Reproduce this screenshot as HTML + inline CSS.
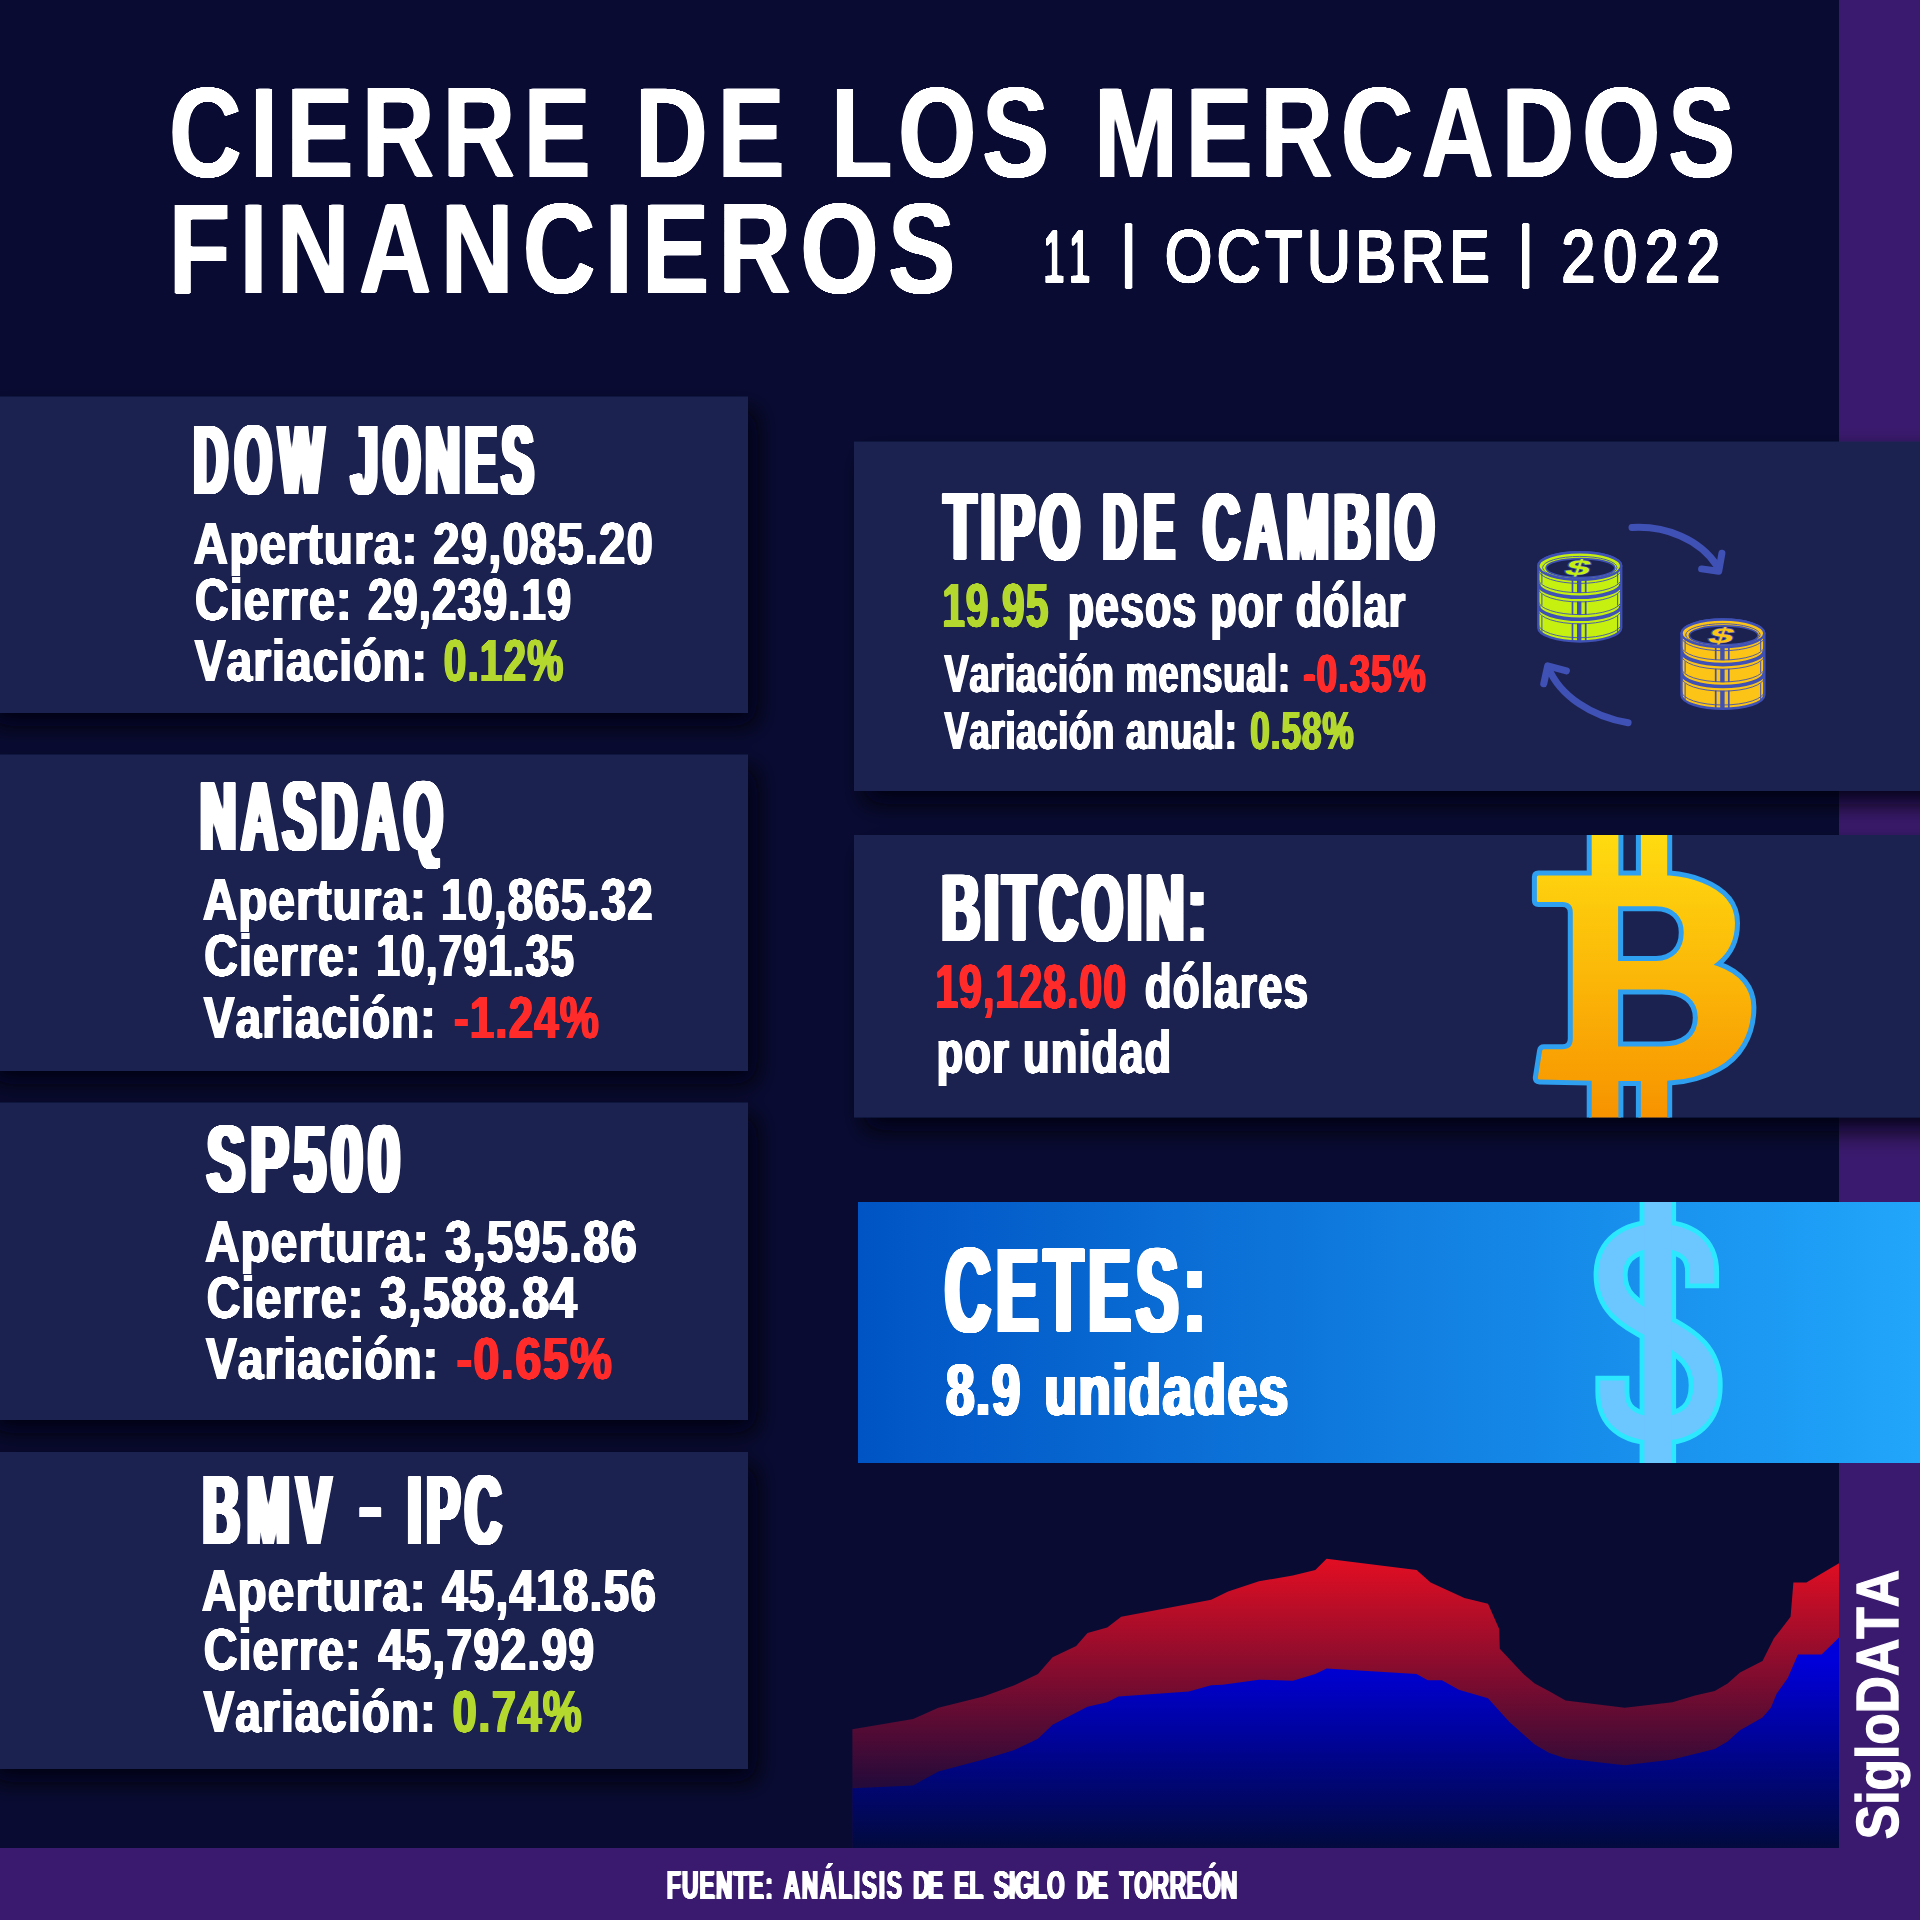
<!DOCTYPE html>
<html lang="es">
<head>
<meta charset="utf-8">
<title>Cierre de los mercados financieros</title>
<style>
html,body{margin:0;padding:0;background:#090b33;}
body{width:1920px;height:1920px;overflow:hidden;}
svg{display:block;}
text{font-family:"Liberation Sans",sans-serif;font-weight:700;font-kerning:none;}
.hd{filter:url(#fatH);}
.bd{filter:url(#fatB);}
.bc{filter:url(#fatC);}
.ft{filter:url(#fatF);}
.ti{filter:url(#fatT);}
.dt{stroke:#fff;stroke-width:1.6px;filter:url(#fatD);}
.dt text{font-weight:400;}
</style>
</head>
<body>
<svg width="1920" height="1920" viewBox="0 0 1920 1920">
<defs>
<filter id="sh" x="-10%" y="-20%" width="130%" height="150%"><feDropShadow dx="9" dy="13" stdDeviation="12" flood-color="#000008" flood-opacity="0.92"/></filter>
<linearGradient id="gr" x1="0" y1="1556" x2="0" y2="1785" gradientUnits="userSpaceOnUse"><stop offset="0" stop-color="#e50e22"/><stop offset="1" stop-color="#250a3a"/></linearGradient>
<linearGradient id="gb" x1="0" y1="1660" x2="0" y2="1848" gradientUnits="userSpaceOnUse"><stop offset="0" stop-color="#0000da"/><stop offset="0.5" stop-color="#00048c"/><stop offset="1" stop-color="#020a3e"/></linearGradient>
<linearGradient id="gc" x1="858" y1="0" x2="1920" y2="0" gradientUnits="userSpaceOnUse"><stop offset="0" stop-color="#0054c4"/><stop offset="1" stop-color="#21a6fb"/></linearGradient>
<linearGradient id="gbt" x1="0" y1="835" x2="0" y2="1118" gradientUnits="userSpaceOnUse"><stop offset="0" stop-color="#ffdb10"/><stop offset="1" stop-color="#f79300"/></linearGradient>
<filter id="fatH" x="0" y="380" width="1920" height="1250" filterUnits="userSpaceOnUse" color-interpolation-filters="sRGB"><feMorphology operator="dilate" radius="2 0"/><feGaussianBlur stdDeviation="1.6 0"/><feComponentTransfer><feFuncA type="linear" slope="5" intercept="-0.870"/></feComponentTransfer></filter>
<filter id="fatB" x="0" y="380" width="1920" height="1400" filterUnits="userSpaceOnUse" color-interpolation-filters="sRGB"><feGaussianBlur stdDeviation="1.7 0"/><feComponentTransfer><feFuncA type="linear" slope="5" intercept="-0.870"/></feComponentTransfer></filter>
<filter id="fatC" x="900" y="1340" width="500" height="100" filterUnits="userSpaceOnUse" color-interpolation-filters="sRGB"><feMorphology operator="dilate" radius="1 0"/><feGaussianBlur stdDeviation="0.9 0"/><feComponentTransfer><feFuncA type="linear" slope="5" intercept="-0.870"/></feComponentTransfer></filter>
<filter id="fatT" x="0" y="0" width="1920" height="400" filterUnits="userSpaceOnUse" color-interpolation-filters="sRGB"><feGaussianBlur stdDeviation="1.4 0"/><feComponentTransfer><feFuncA type="linear" slope="5" intercept="-1.050"/></feComponentTransfer></filter>
<filter id="fatD" x="1000" y="200" width="800" height="120" filterUnits="userSpaceOnUse" color-interpolation-filters="sRGB"><feGaussianBlur stdDeviation="1.3 0"/><feComponentTransfer><feFuncA type="linear" slope="5" intercept="-1.050"/></feComponentTransfer></filter>
<filter id="fatF" x="0" y="1840" width="1920" height="80" filterUnits="userSpaceOnUse" color-interpolation-filters="sRGB"><feGaussianBlur stdDeviation="1.5 0"/><feComponentTransfer><feFuncA type="linear" slope="5" intercept="-0.900"/></feComponentTransfer></filter>
<clipPath id="cbt"><rect x="854" y="835" width="1066" height="282.5"/></clipPath>
<clipPath id="cct"><rect x="858" y="1202" width="1062" height="261"/></clipPath>
</defs>
<rect width="1920" height="1920" fill="#090b33"/>
<rect x="1839" y="0" width="81" height="1920" fill="#3a1a6e"/>
<polygon points="852.4,1729.2 913.1,1719.0 938.4,1707.8 983.4,1696.6 1014.4,1685.3 1038.0,1674.0 1052.6,1657.2 1076.2,1646.0 1087.5,1633.0 1107.2,1627.4 1121.2,1616.7 1211.2,1599.8 1228.1,1591.4 1259.0,1581.2 1292.8,1575.6 1315.3,1570.0 1326.6,1558.8 1416.6,1570.0 1430.6,1582.4 1464.4,1598.1 1488.0,1603.8 1499.2,1629.0 1499.8,1648.8 1523.4,1674.0 1534.7,1683.6 1548.8,1691.0 1565.6,1700.5 1624.7,1707.8 1672.5,1702.2 1695.0,1695.4 1714.7,1691.0 1727.6,1683.6 1740.0,1672.4 1762.5,1661.1 1773.8,1638.6 1790.6,1616.7 1793.4,1582.4 1806.4,1582.4 1839.0,1563.2 1839.0,1848.0 852.4,1848.0" fill="url(#gr)"/>
<polygon points="852.4,1788.2 913.1,1785.4 938.4,1771.4 983.4,1759.6 1014.4,1750.0 1038.0,1738.8 1052.6,1724.7 1087.5,1706.7 1107.2,1702.2 1118.4,1696.6 1188.8,1691.5 1211.2,1685.3 1222.5,1684.8 1259.0,1679.7 1292.8,1680.8 1315.3,1674.0 1326.6,1668.4 1416.6,1674.0 1427.8,1680.2 1441.9,1680.2 1458.8,1689.8 1488.0,1698.2 1509.4,1721.9 1534.7,1744.4 1548.8,1752.8 1565.6,1758.4 1624.7,1765.2 1672.5,1759.6 1714.7,1748.9 1727.6,1741.6 1740.0,1730.3 1762.5,1717.4 1770.9,1707.8 1776.6,1693.8 1787.8,1678.0 1797.9,1654.4 1821.6,1654.4 1839.0,1637.5 1839.0,1848.0 852.4,1848.0" fill="url(#gb)"/>
<rect x="0" y="1848" width="1920" height="72" fill="#3a1a6e"/>
<g filter="url(#sh)" fill="#1b224f">
<rect x="-20" y="396.5" width="768" height="316.5"/>
<rect x="-20" y="754.5" width="768" height="316.5"/>
<rect x="-20" y="1102.6" width="768" height="317.4"/>
<rect x="-20" y="1452" width="768" height="317"/>
<rect x="854" y="441.6" width="1090" height="349.4"/>
<rect x="854" y="835" width="1090" height="282.5"/>
</g>
<rect x="858" y="1202" width="1062" height="261" fill="url(#gc)"/>
<!-- ICONS -->
<g id="icons">
<g fill="none" stroke="#3f51b5" stroke-width="7" stroke-linecap="round" stroke-linejoin="round">
<path d="M1632,527.5 C1665,525.5 1700,539 1717.5,566.5"/><path d="M1701.6,568.9 L1718.75,571.25 L1721.9,553.3"/>
<path d="M1628.1,722.8 C1592,717 1560,696 1548.5,668"/><path d="M1543.75,683.75 L1547.7,665.8 L1566.4,670.9"/>
</g>
<clipPath id="ck1"><path d="M1538.3,566.0 V627.7 A41.4,13.8 0 0 0 1621.2,627.7 V566.0 A41.4,13.8 0 0 0 1538.3,566.0 Z"/></clipPath>
<path d="M1538.3,566.0 V627.7 A41.4,13.8 0 0 0 1621.2,627.7 V566.0 A41.4,13.8 0 0 0 1538.3,566.0 Z" fill="#c6f00f"/>
<g clip-path="url(#ck1)" fill="none" stroke="#3f51b5">
<path d="M1579.2,579.8 V641.5" stroke-width="4.4"/>
<path d="M1572.5,579.8 V641.5 M1585.7,579.8 V641.5" stroke-width="1.7"/>
<path d="M1541.9,570.0 V633.7 M1617.6,570.0 V633.7" stroke-width="1"/>
<path d="M1538.3,583.5 A41.4,13.8 0 0 0 1621.2,583.5" stroke="#c6f00f" stroke-width="8.6"/>
<path d="M1538.3,578.9 A41.4,13.8 0 0 0 1621.2,578.9" stroke-width="0.9"/>
<path d="M1538.3,588.1 A41.4,13.8 0 0 0 1621.2,588.1" stroke-width="0.9"/>
<path d="M1538.3,583.5 A41.4,13.8 0 0 0 1621.2,583.5" stroke-width="3.6"/>
<path d="M1538.3,605.4 A41.4,13.8 0 0 0 1621.2,605.4" stroke="#c6f00f" stroke-width="8.6"/>
<path d="M1538.3,600.8 A41.4,13.8 0 0 0 1621.2,600.8" stroke-width="0.9"/>
<path d="M1538.3,610.0 A41.4,13.8 0 0 0 1621.2,610.0" stroke-width="0.9"/>
<path d="M1538.3,605.4 A41.4,13.8 0 0 0 1621.2,605.4" stroke-width="3.6"/>
<path d="M1538.3,569.6 A41.4,13.8 0 0 0 1621.2,569.6" stroke-width="0.9"/>
<path d="M1538.3,623.9 A41.4,13.8 0 0 0 1621.2,623.9" stroke-width="0.9"/>
</g>
<path d="M1538.3,566.0 V627.7 A41.4,13.8 0 0 0 1621.2,627.7 V566.0 A41.4,13.8 0 0 0 1538.3,566.0 Z" fill="none" stroke="#3f51b5" stroke-width="2.4"/>
<ellipse cx="1579.8" cy="566.0" rx="41.4" ry="13.8" fill="#c6f00f" stroke="#3f51b5" stroke-width="2.4"/>
<ellipse cx="1579.8" cy="567.6" rx="37.199999999999996" ry="11.200000000000001" fill="none" stroke="#3f51b5" stroke-width="0.9"/>
<ellipse cx="1580.5" cy="568.1" rx="34.4" ry="9.5" fill="#1b224f" stroke="#3f51b5" stroke-width="1.6"/>
<text transform="matrix(1.5 0 -0.3 0.74 1563.3 575.4)" font-size="29" fill="#c6f00f" stroke="#3f51b5" stroke-width="1.7" paint-order="stroke">$</text>
<clipPath id="ck2"><path d="M1681.5,633.3 V695.0 A41.4,13.8 0 0 0 1764.3,695.0 V633.3 A41.4,13.8 0 0 0 1681.5,633.3 Z"/></clipPath>
<path d="M1681.5,633.3 V695.0 A41.4,13.8 0 0 0 1764.3,695.0 V633.3 A41.4,13.8 0 0 0 1681.5,633.3 Z" fill="#fcc417"/>
<g clip-path="url(#ck2)" fill="none" stroke="#3f51b5">
<path d="M1722.4,647.1 V708.8" stroke-width="4.4"/>
<path d="M1715.7,647.1 V708.8 M1728.8,647.1 V708.8" stroke-width="1.7"/>
<path d="M1685.1,637.3 V701.0 M1760.7,637.3 V701.0" stroke-width="1"/>
<path d="M1681.5,650.8 A41.4,13.8 0 0 0 1764.3,650.8" stroke="#fcc417" stroke-width="8.6"/>
<path d="M1681.5,646.2 A41.4,13.8 0 0 0 1764.3,646.2" stroke-width="0.9"/>
<path d="M1681.5,655.4 A41.4,13.8 0 0 0 1764.3,655.4" stroke-width="0.9"/>
<path d="M1681.5,650.8 A41.4,13.8 0 0 0 1764.3,650.8" stroke-width="3.6"/>
<path d="M1681.5,672.7 A41.4,13.8 0 0 0 1764.3,672.7" stroke="#fcc417" stroke-width="8.6"/>
<path d="M1681.5,668.1 A41.4,13.8 0 0 0 1764.3,668.1" stroke-width="0.9"/>
<path d="M1681.5,677.3 A41.4,13.8 0 0 0 1764.3,677.3" stroke-width="0.9"/>
<path d="M1681.5,672.7 A41.4,13.8 0 0 0 1764.3,672.7" stroke-width="3.6"/>
<path d="M1681.5,636.9 A41.4,13.8 0 0 0 1764.3,636.9" stroke-width="0.9"/>
<path d="M1681.5,691.2 A41.4,13.8 0 0 0 1764.3,691.2" stroke-width="0.9"/>
</g>
<path d="M1681.5,633.3 V695.0 A41.4,13.8 0 0 0 1764.3,695.0 V633.3 A41.4,13.8 0 0 0 1681.5,633.3 Z" fill="none" stroke="#3f51b5" stroke-width="2.4"/>
<ellipse cx="1722.9" cy="633.3" rx="41.4" ry="13.8" fill="#fcc417" stroke="#3f51b5" stroke-width="2.4"/>
<ellipse cx="1722.9" cy="634.9" rx="37.199999999999996" ry="11.200000000000001" fill="none" stroke="#3f51b5" stroke-width="0.9"/>
<ellipse cx="1723.7" cy="635.4" rx="34.4" ry="9.5" fill="#1b224f" stroke="#3f51b5" stroke-width="1.6"/>
<text transform="matrix(1.5 0 -0.3 0.74 1706.5 642.7)" font-size="29" fill="#fcc417" stroke="#3f51b5" stroke-width="1.7" paint-order="stroke">$</text>
<g clip-path="url(#cbt)"><path fill="url(#gbt)" stroke="#2f9ff0" stroke-width="5" stroke-linejoin="miter" fill-rule="evenodd" d="M1589.2,800 V873.1 H1538.4 Q1534.4,873.1 1534.4,877.1 V900.4 Q1534.4,904.4 1538.4,904.4 H1562.3 Q1570.3,904.4 1570.3,912.4 V1038.7 Q1570.3,1046.7 1562.3,1046.7 H1544 Q1540.2,1046.7 1539.6,1050.5 L1535.4,1077 Q1534.8,1081.8 1539.5,1082 L1589.2,1083.1 V1150 H1620.9 V1083.4 H1638.4 V1150 H1669.7 V1083.1 C1690,1082 1705,1077 1718.75,1069.4 C1740,1058 1753.9,1036 1753.9,1006.9 C1753.9,988 1742,972 1718.75,963.9 C1731,954 1737.5,940 1737.5,923 C1737.5,905 1727,890 1703,880.5 C1692,876 1681,874 1669.7,873.1 V800 H1638.4 V873.1 H1620.9 V800 Z M1620.6,908.75 H1656 C1672,908.75 1681.25,918 1681.25,932.5 C1681.25,948 1672,958.4 1656,958.4 H1620.6 Z M1620.6,992 H1662 C1684,992 1695.3,1002 1695.3,1017.8 C1695.3,1034 1684,1044 1662,1044 H1620.6 Z"/></g>
<g clip-path="url(#cct)" fill="none">
<path d="M1702.1,1288.3 V1272 C1702.1,1248 1686,1236.4 1657.5,1236.4 C1629,1236.4 1610.6,1250 1610.6,1275 C1610.6,1300 1626,1313 1657.5,1328 C1690,1343.5 1705.7,1358 1705.7,1385 C1705.7,1414 1689,1428.8 1657.5,1428.8 C1628,1428.8 1612.4,1416 1612.4,1392 V1375.8" stroke="#2ce8ff" stroke-width="34"/>
<rect x="1639.6" y="1190" width="36.5" height="290" fill="#2ce8ff"/>
<path d="M1702.1,1283.5 V1272 C1702.1,1248 1686,1236.4 1657.5,1236.4 C1629,1236.4 1610.6,1250 1610.6,1275 C1610.6,1300 1626,1313 1657.5,1328 C1690,1343.5 1705.7,1358 1705.7,1385 C1705.7,1414 1689,1428.8 1657.5,1428.8 C1628,1428.8 1612.4,1416 1612.4,1392 V1380.6" stroke="#6cc6ff" stroke-width="24.4"/>
<rect x="1644.4" y="1190" width="26.9" height="290" fill="#6cc6ff"/>
</g>
</g>
<g id="txt" fill="#fff">
<g class="ti">
<text transform="matrix(0.7900 0 0 1 169.07 177.10)" font-size="127.47" letter-spacing="10.43">CIERRE</text>
<text transform="matrix(0.7900 0 0 1 634.96 177.10)" font-size="127.47" letter-spacing="12.50">DE</text>
<text transform="matrix(0.7900 0 0 1 830.96 177.10)" font-size="127.47" letter-spacing="7.13">LOS</text>
<text transform="matrix(0.7900 0 0 1 1093.96 177.10)" font-size="127.47" letter-spacing="9.73">MERCADOS</text>
<text transform="matrix(0.7900 0 0 1 168.66 292.80)" font-size="127.62" letter-spacing="11.65">FINANCIEROS</text>
</g>
<g class="dt">
<text transform="matrix(0.6415 0 0 0.6898 1120.32 273.98)" font-size="100">|</text>
<text transform="matrix(0.6169 0 0 0.6898 1517.74 273.98)" font-size="100">|</text>
<text transform="matrix(0.5000 0 0 1 1043.40 281.70)" font-size="74.71" letter-spacing="10.04">11</text>
<text transform="matrix(0.8100 0 0 1 1164.88 281.70)" font-size="74.71" letter-spacing="5.95">OCTUBRE</text>
<text transform="matrix(0.8100 0 0 1 1561.61 281.70)" font-size="74.71" letter-spacing="9.86">2022</text>
</g>
<g class="hd">
<text transform="matrix(0.4837 0 0 1 193.75 494.00)" font-size="97.38" letter-spacing="15.03">DOW</text>
<text transform="matrix(0.4890 0 0 1 351.58 494.00)" font-size="97.38" letter-spacing="10.55">JONES</text>
<text transform="matrix(0.5100 0 0 1 200.18 850.00)" font-size="97.38" letter-spacing="10.69">NASDAQ</text>
<text transform="matrix(0.5895 0 0 1 207.06 1191.90)" font-size="96.66" letter-spacing="9.21">SP500</text>
<text transform="matrix(0.5262 0 0 1 202.87 1544.40)" font-size="97.38" letter-spacing="13.59">BMV</text>
<text transform="matrix(0.5154 0 0 1 407.44 1544.40)" font-size="97.38" letter-spacing="9.95">IPC</text>
<text transform="matrix(0.6302 0 0 0.8226 359.64 1533.03)" font-size="100">-</text>
<text transform="matrix(0.5336 0 0 1 944.22 560.00)" font-size="96.66" letter-spacing="9.55">TIPO</text>
<text transform="matrix(0.4759 0 0 1 1102.92 560.00)" font-size="96.66" letter-spacing="16.12">DE</text>
<text transform="matrix(0.5226 0 0 1 1203.33 560.00)" font-size="96.66" letter-spacing="9.98">CAMBIO</text>
<text transform="matrix(0.5464 0 0 1 941.87 941.25)" font-size="96.66" letter-spacing="7.68">BITCOIN:</text>
<text transform="matrix(0.5230 0 0 1 945.07 1332.25)" font-size="120.49" letter-spacing="11.05">CETES:</text>
</g>
<g class="bd">
<text transform="matrix(0.8024 0 0 1 193.51 564.40)" font-size="59.59" letter-spacing="1.36">Apertura:</text>
<text transform="matrix(0.7961 0 0 1 433.21 564.40)" font-size="59.59" letter-spacing="1.36">29,085.20</text>
<text transform="matrix(0.7834 0 0 1 195.04 620.20)" font-size="59.59" letter-spacing="1.28">Cierre:</text>
<text transform="matrix(0.7368 0 0 1 367.93 620.20)" font-size="59.59" letter-spacing="1.36">29,239.19</text>
<text transform="matrix(0.7748 0 0 1 194.63 681.20)" font-size="59.59" letter-spacing="1.31">Variación:</text>
<text transform="matrix(0.6811 0 0 1 443.64 681.20)" font-size="59.59" fill="#b4d82e" letter-spacing="1.72">0.12%</text>
<text transform="matrix(0.7990 0 0 1 202.86 920.10)" font-size="59.59" letter-spacing="1.36">Apertura:</text>
<text transform="matrix(0.7673 0 0 1 441.07 920.10)" font-size="59.59" letter-spacing="1.35">10,865.32</text>
<text transform="matrix(0.7819 0 0 1 204.34 976.40)" font-size="59.59" letter-spacing="1.28">Cierre:</text>
<text transform="matrix(0.7166 0 0 1 376.26 976.40)" font-size="59.59" letter-spacing="1.35">10,791.35</text>
<text transform="matrix(0.7725 0 0 1 203.84 1038.00)" font-size="59.59" letter-spacing="1.31">Variación:</text>
<text transform="matrix(0.7380 0 0 1 453.93 1038.00)" font-size="59.59" fill="#ff2b2b" letter-spacing="1.54">-1.24%</text>
<text transform="matrix(0.8013 0 0 1 205.01 1261.90)" font-size="59.59" letter-spacing="1.36">Apertura:</text>
<text transform="matrix(0.7953 0 0 1 444.96 1261.90)" font-size="59.59" letter-spacing="1.36">3,595.86</text>
<text transform="matrix(0.7829 0 0 1 206.84 1318.10)" font-size="59.59" letter-spacing="1.28">Cierre:</text>
<text transform="matrix(0.8171 0 0 1 379.83 1318.10)" font-size="59.59" letter-spacing="1.37">3,588.84</text>
<text transform="matrix(0.7742 0 0 1 206.03 1378.80)" font-size="59.59" letter-spacing="1.31">Variación:</text>
<text transform="matrix(0.7922 0 0 1 456.41 1378.80)" font-size="59.59" fill="#ff2b2b" letter-spacing="1.54">-0.65%</text>
<text transform="matrix(0.8026 0 0 1 201.86 1610.60)" font-size="59.59" letter-spacing="1.36">Apertura:</text>
<text transform="matrix(0.7755 0 0 1 441.95 1610.60)" font-size="59.59" letter-spacing="1.36">45,418.56</text>
<text transform="matrix(0.7855 0 0 1 203.73 1670.00)" font-size="59.59" letter-spacing="1.28">Cierre:</text>
<text transform="matrix(0.7830 0 0 1 378.14 1670.00)" font-size="59.59" letter-spacing="1.36">45,792.99</text>
<text transform="matrix(0.7738 0 0 1 203.53 1731.80)" font-size="59.59" letter-spacing="1.31">Variación:</text>
<text transform="matrix(0.7346 0 0 1 452.62 1731.80)" font-size="59.59" fill="#b4d82e" letter-spacing="1.72">0.74%</text>
<text transform="matrix(0.6427 0 0 1 942.13 626.90)" font-size="63.52" fill="#b4d82e" letter-spacing="1.60">19.95</text>
<text transform="matrix(0.6805 0 0 1 1067.70 626.90)" font-size="63.52" letter-spacing="1.40">pesos por dólar</text>
<text transform="matrix(0.6749 0 0 1 944.45 691.90)" font-size="53.63" letter-spacing="1.19">Variación mensual:</text>
<text transform="matrix(0.6919 0 0 1 1303.25 691.90)" font-size="53.63" fill="#ff2b2b" letter-spacing="1.39">-0.35%</text>
<text transform="matrix(0.6781 0 0 1 944.45 748.60)" font-size="53.63" letter-spacing="1.14">Variación anual:</text>
<text transform="matrix(0.6544 0 0 1 1250.16 748.60)" font-size="53.63" fill="#b4d82e" letter-spacing="1.55">0.58%</text>
<text transform="matrix(0.6521 0 0 1 935.25 1007.75)" font-size="63.23" fill="#ff2b2b" letter-spacing="1.43">19,128.00</text>
<text transform="matrix(0.6978 0 0 1 1144.74 1007.75)" font-size="63.23" letter-spacing="1.53">dólares</text>
<text transform="matrix(0.7053 0 0 1 936.57 1073.10)" font-size="61.92" letter-spacing="1.44">por unidad</text>
</g>
<g class="bc">
<text transform="matrix(0.7069 0 0 1 946.14 1415.00)" font-size="71.66" letter-spacing="2.49">8.9</text>
<text transform="matrix(0.7369 0 0 1 1044.48 1415.00)" font-size="71.66" letter-spacing="2.31">unidades</text>
</g>
<g class="ft">
<text transform="matrix(0.5500 0 0 1 666.78 1898.90)" font-size="41.42" letter-spacing="2.24">FUENTE:</text>
<text transform="matrix(0.5500 0 0 1 783.63 1898.90)" font-size="41.42" letter-spacing="3.15">ANÁLISIS</text>
<text transform="matrix(0.5500 0 0 1 912.88 1898.90)" font-size="41.42" letter-spacing="-2.25">DE</text>
<text transform="matrix(0.5500 0 0 1 954.08 1898.90)" font-size="41.42" letter-spacing="0.20">EL</text>
<text transform="matrix(0.5500 0 0 1 993.84 1898.90)" font-size="41.42" letter-spacing="-0.03">SIGLO</text>
<text transform="matrix(0.5500 0 0 1 1076.78 1898.90)" font-size="41.42" letter-spacing="-0.61">DE</text>
<text transform="matrix(0.5500 0 0 1 1119.54 1898.90)" font-size="41.42" letter-spacing="1.26">TORREÓN</text>
</g>
<text transform="matrix(0 -0.8778 1 0 1898.05 1839.18)" font-size="58.72" stroke="#fff" stroke-width="1.3">SigloDATA</text>
</g>
</svg>
</body>
</html>
